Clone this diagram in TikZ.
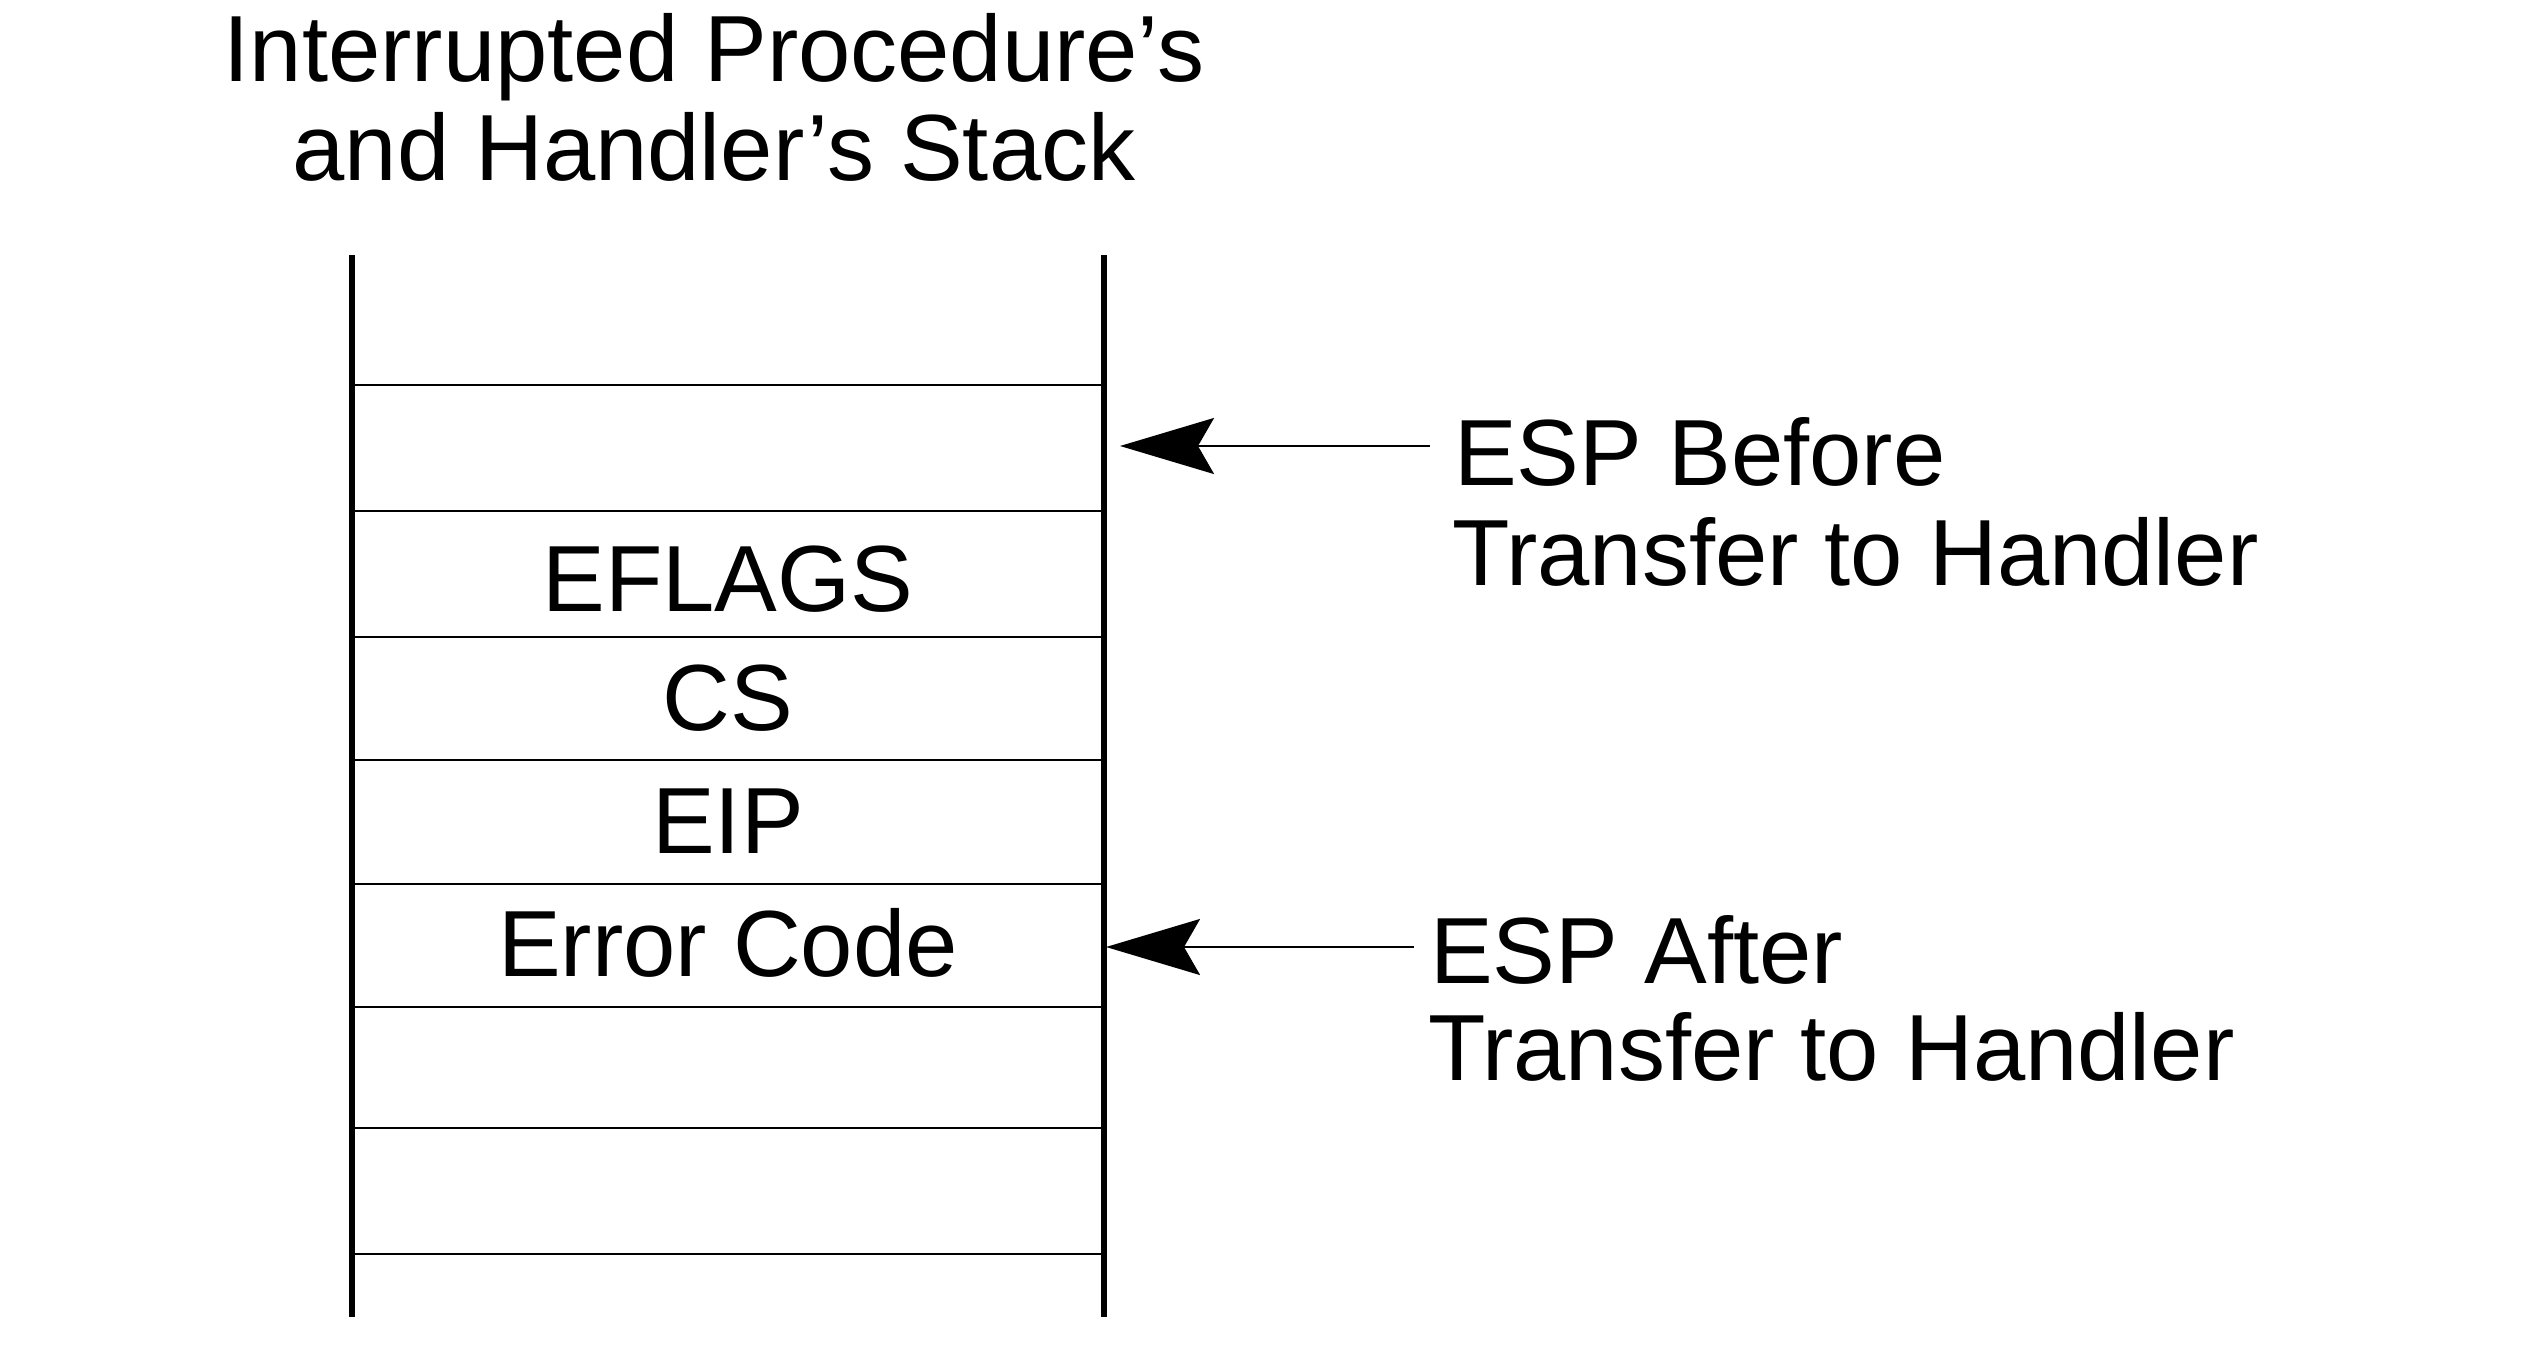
\documentclass[tikz,border=0pt]{standalone}
\usepackage{fontspec}
\setmainfont{Liberation Sans}
\usetikzlibrary{arrows.meta}
\begin{document}
\begin{tikzpicture}[x=1pt,y=-1pt,
  txt/.style={font=\fontsize{94}{100}\selectfont, inner sep=0pt},
  wall/.style={line width=6pt},
  sep/.style={line width=2.5pt},
  ptr/.style={line width=2.4pt, -{Stealth[length=94pt,width=56pt,inset=16pt]}}]
\useasboundingbox (0,0) rectangle (2534,1356);
% title
\node[txt, anchor=base] (t1) at (714,82) {Interrupted Procedure’s};
\node[txt, anchor=base] (t2) at (714,181) {and Handler’s Stack};
% stack walls
\coordinate (lt) at (352,255); \coordinate (lb) at (352,1317);
\coordinate (rt) at (1104,255); \coordinate (rb) at (1104,1317);
\draw[wall] (lt) -- (lb);
\draw[wall] (rt) -- (rb);
% separators
\foreach \y in {385,511,637,760,884,1007,1128,1254}{
  \draw[sep] (352,\y) -- (1104,\y);
}
% cell labels
\node[txt, anchor=base] (eflags) at (728,611) {EFLAGS};
\node[txt, anchor=base] (cs) at (728,730) {CS};
\node[txt, anchor=base] (eip) at (728,853) {EIP};
\node[txt, anchor=base] (err) at (728,976) {Error Code};
% ESP before
\node[txt, anchor=base west] (b1) at (1454,485) {ESP Before};
\node[txt, anchor=base west] (b2) at (1452,585) {Transfer to Handler};
\coordinate (bs) at (1430,446);
\coordinate (bt) at (1120,446);
\draw[ptr] (bs) -- (bt);
% ESP after
\node[txt, anchor=base west] (a1) at (1430,983) {ESP After};
\node[txt, anchor=base west] (a2) at (1428,1080) {Transfer to Handler};
\coordinate (as) at (1414,947);
\coordinate (at) at (1106,947);
\draw[ptr] (as) -- (at);
\end{tikzpicture}
\end{document}
